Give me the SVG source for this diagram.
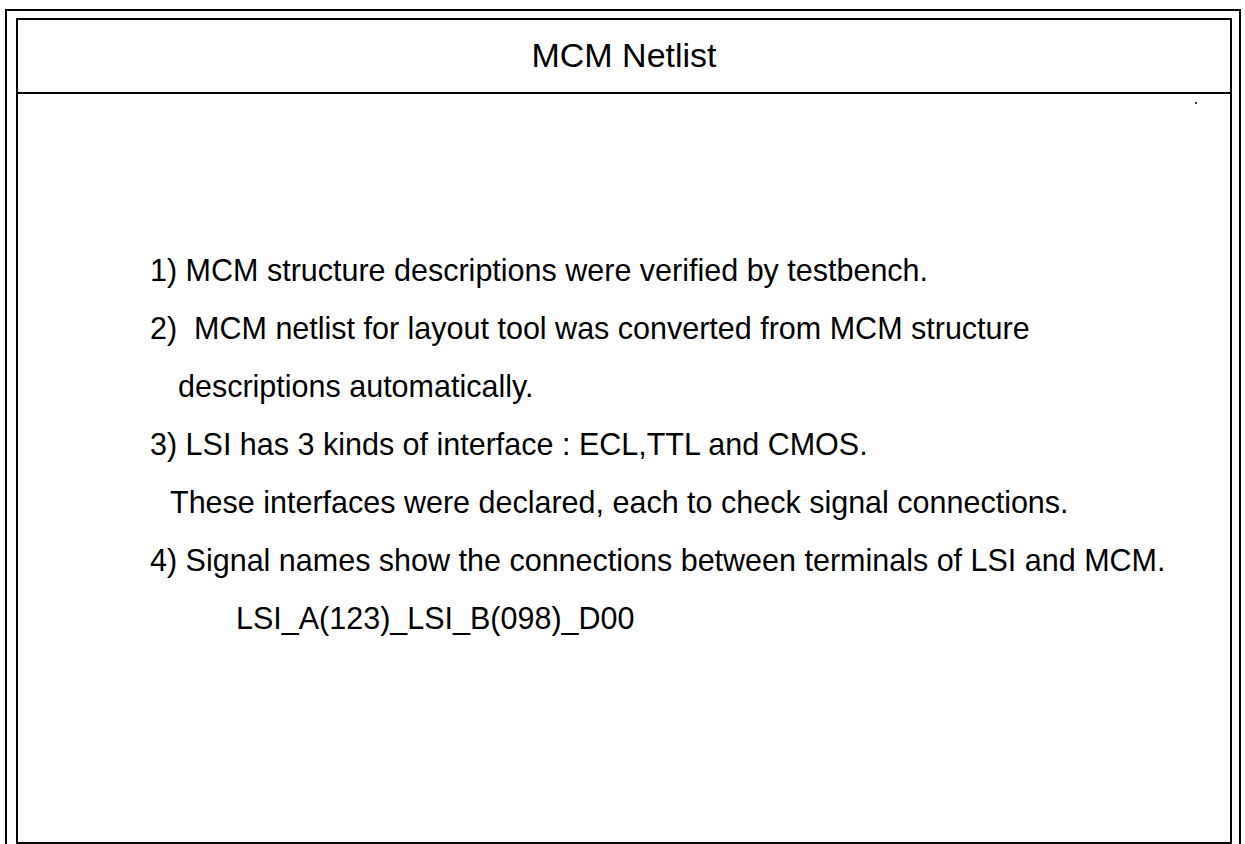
<svg xmlns="http://www.w3.org/2000/svg" width="1245" height="844" viewBox="0 0 1245 844">
  <style>
    .frame { fill: none; stroke: #000; stroke-width: 2; }
    .rule { stroke: #000; stroke-width: 2; }
    .title { font-family: "Liberation Sans", Arial, sans-serif; font-size: 34px; fill: #000; text-anchor: middle; }
    .body { font-family: "Liberation Sans", Arial, sans-serif; font-size: 30.5px; fill: #000; }
  </style>
  <rect width="1245" height="844" fill="#fff"/>
  <!-- double border with title rule -->
  <g id="border">
    <rect class="frame" x="6" y="10" width="1234" height="845"/>
    <rect class="frame" x="17" y="19" width="1214" height="824"/>
    <line class="rule" x1="17" y1="93" x2="1231" y2="93"/>
    <circle cx="1196" cy="103" r="1" fill="#000"/>
  </g>
  <g id="title">
    <text class="title" x="624" y="67">MCM Netlist</text>
  </g>
  <g id="items">
    <text class="body" x="150" y="281">1) MCM structure descriptions were verified by testbench.</text>
    <text class="body" x="150" y="339" xml:space="preserve">2)  MCM netlist for layout tool was converted from MCM structure</text>
    <text class="body" x="178" y="397">descriptions automatically.</text>
    <text class="body" x="150" y="455">3) LSI has 3 kinds of interface : ECL,TTL and CMOS.</text>
    <text class="body" x="170" y="513">These interfaces were declared, each to check signal connections.</text>
    <text class="body" x="150" y="571">4) Signal names show the connections between terminals of LSI and MCM.</text>
    <text class="body" x="236" y="629">LSI_A(123)_LSI_B(098)_D00</text>
  </g>
</svg>
